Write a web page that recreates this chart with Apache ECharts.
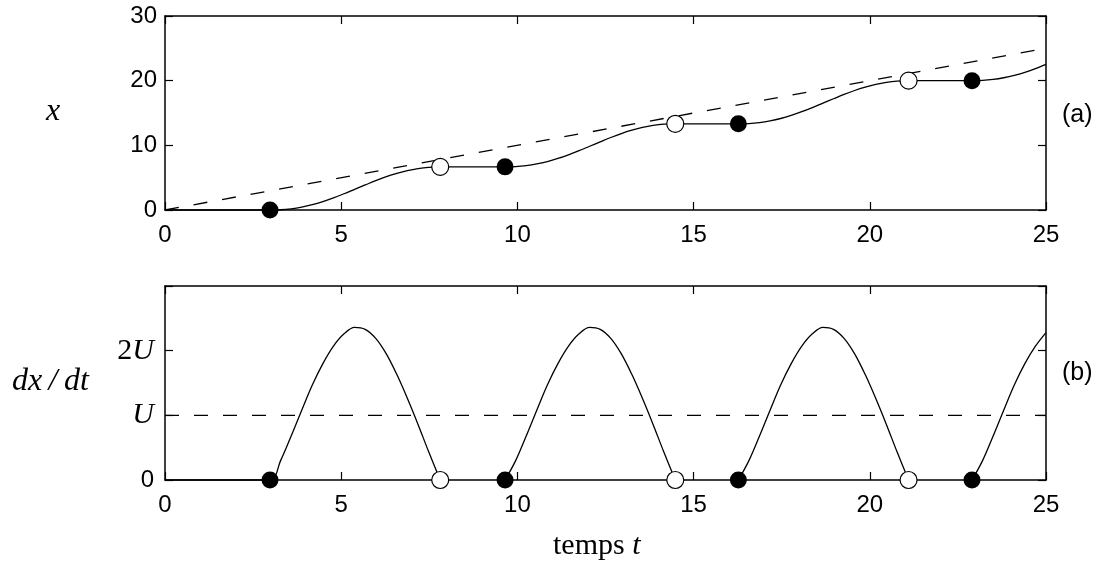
<!DOCTYPE html>
<html>
<head>
<meta charset="utf-8">
<script src="https://cdn.jsdelivr.net/npm/echarts@6/dist/echarts.min.js"></script>
<style>
html,body{margin:0;padding:0;background:#fff;}
#chart{width:1100px;height:570px;}
</style>
</head>
<body>
<div id="chart"></div>
<script>
// ---- data ----
var xTicks = [0, 5, 10, 15, 20, 25];
var topTickLabels = ['0', '10', '20', '30'];
var botTickLabels = ['0', 'U', '2U', ''];

// (a) position x(t)
var tTop = [0,
  2.98, 3.28, 3.58, 3.88, 4.18, 4.48, 4.78, 5.08, 5.38, 5.68, 5.98, 6.28, 6.58, 6.88, 7.18, 7.48, 7.81,
  9.65, 9.95, 10.25, 10.55, 10.85, 11.15, 11.45, 11.75, 12.05, 12.35, 12.65, 12.95, 13.25, 13.55, 13.85, 14.15, 14.48,
  16.27, 16.57, 16.87, 17.17, 17.47, 17.77, 18.07, 18.37, 18.67, 18.97, 19.27, 19.57, 19.87, 20.17, 20.47, 20.77, 21.1,
  22.9, 23.2, 23.5, 23.8, 24.1, 24.4, 24.7, 25.0];
var xTop = [0,
  0, 0.04, 0.19, 0.45, 0.82, 1.30, 1.87, 2.51, 3.19, 3.87, 4.54, 5.15, 5.67, 6.10, 6.41, 6.60, 6.67,
  6.67, 6.71, 6.86, 7.12, 7.49, 7.97, 8.54, 9.18, 9.86, 10.54, 11.21, 11.82, 12.34, 12.77, 13.08, 13.27, 13.33,
  13.33, 13.37, 13.52, 13.78, 14.15, 14.63, 15.20, 15.84, 16.52, 17.20, 17.87, 18.48, 19.00, 19.43, 19.74, 19.93, 20,
  20, 20.04, 20.19, 20.45, 20.82, 21.30, 21.87, 22.53];
// dashed reference x = U t
var tRef = [0, 25];
var xRef = [0, 25];

// (b) velocity dx/dt (in units of U); null separates the bumps
var tBot = [0, 2.98,
  2.98, 3.28, 3.58, 3.88, 4.18, 4.48, 4.78, 5.08, 5.38, 5.68, 5.98, 6.28, 6.58, 6.88, 7.18, 7.48, 7.81,
  8.7,
  9.65, 9.95, 10.25, 10.55, 10.85, 11.15, 11.45, 11.75, 12.05, 12.35, 12.65, 12.95, 13.25, 13.55, 13.85, 14.15, 14.48,
  15.4,
  16.27, 16.57, 16.87, 17.17, 17.47, 17.77, 18.07, 18.37, 18.67, 18.97, 19.27, 19.57, 19.87, 20.17, 20.47, 20.77, 21.1,
  22.0,
  22.9, 23.2, 23.5, 23.8, 24.1, 24.4, 24.7, 25.0];
var vBot = [0, 0,
  0, 0.30, 0.68, 1.08, 1.47, 1.80, 2.07, 2.26, 2.36, 2.33, 2.19, 1.95, 1.63, 1.26, 0.86, 0.44, 0,
  null,
  0, 0.30, 0.68, 1.08, 1.47, 1.80, 2.07, 2.26, 2.36, 2.33, 2.19, 1.95, 1.63, 1.26, 0.86, 0.44, 0,
  null,
  0, 0.30, 0.68, 1.08, 1.47, 1.80, 2.07, 2.26, 2.36, 2.33, 2.19, 1.95, 1.63, 1.26, 0.86, 0.44, 0,
  null,
  0, 0.30, 0.68, 1.08, 1.47, 1.80, 2.07, 2.28];
var tUref = [0, 25];
var vUref = [1, 1];

// markers: filled = start of motion, open = stop
var tFilled = [2.98, 9.65, 16.27, 22.9];
var xFilled = [0, 6.67, 13.33, 20];
var vFilled = [0, 0, 0, 0];
var tOpen = [7.81, 14.48, 21.1];
var xOpen = [6.67, 13.33, 20];
var vOpen = [0, 0, 0];

// ---- build ----
function zip(a, b) {
  var out = [];
  for (var i = 0; i < a.length; i++) out.push([a[i], b[i] === null ? '-' : b[i]]);
  return out;
}
var SANS = '"Liberation Sans", Arial, sans-serif';
var SERIF = '"Liberation Serif", "Times New Roman", serif';
var black = '#000';

function xAx(grid, pos, labels) {
  return {
    type: 'value', gridIndex: grid, position: pos, min: 0, max: 25, interval: 5,
    axisLine: { show: true, onZero: false, lineStyle: { color: black, width: 1.5 } },
    axisTick: { show: true, inside: true, length: 8, lineStyle: { color: black, width: 1.2 } },
    splitLine: { show: false },
    axisLabel: labels ? { show: true, color: black, fontFamily: SANS, fontSize: 24, margin: 13, showMinLabel: true, showMaxLabel: true } : { show: false }
  };
}
function yAx(grid, pos, max, interval, labelOpt) {
  return {
    type: 'value', gridIndex: grid, position: pos, min: 0, max: max, interval: interval,
    axisLine: { show: true, onZero: false, lineStyle: { color: black, width: 1.5 } },
    axisTick: { show: true, inside: true, length: 8, lineStyle: { color: black, width: 1.2 } },
    splitLine: { show: false },
    axisLabel: labelOpt || { show: false }
  };
}

var topLabel = {
  show: true, color: black, fontFamily: SANS, fontSize: 24, margin: 8,
  formatter: function (v) { return topTickLabels[Math.round(v / 10)]; }
};
var botLabel = {
  show: true, color: black, margin: 11,
  formatter: function (v) {
    var s = botTickLabels[Math.round(v)];
    if (s === '0') return '{s|0}';
    if (s === 'U') return '{i|U}';
    if (s === '2U') return '{n|2}{i|U}';
    return '';
  },
  rich: {
    s: { fontFamily: SANS, fontSize: 24, color: black },
    n: { fontFamily: SERIF, fontSize: 30, color: black },
    i: { fontFamily: SERIF, fontSize: 30, fontStyle: 'italic', color: black }
  }
};

var chart = echarts.init(document.getElementById('chart'));
chart.setOption({
  animation: false,
  backgroundColor: '#fff',
  grid: [
    { left: 165, right: 54, top: 16, height: 194 },
    { left: 165, right: 54, top: 286, height: 194 }
  ],
  xAxis: [
    xAx(0, 'bottom', true), xAx(0, 'top', false),
    xAx(1, 'bottom', true), xAx(1, 'top', false)
  ],
  yAxis: [
    yAx(0, 'left', 30, 10, topLabel), yAx(0, 'right', 30, 10, null),
    yAx(1, 'left', 3, 1, botLabel), yAx(1, 'right', 3, 1, null)
  ],
  series: [
    { type: 'line', xAxisIndex: 0, yAxisIndex: 0, data: zip(tRef, xRef), showSymbol: false,
      lineStyle: { color: black, width: 1.3, type: [14, 15] }, z: 2 },
    { type: 'line', xAxisIndex: 0, yAxisIndex: 0, data: zip(tTop, xTop), showSymbol: false, smooth: 0.35,
      clip: false, lineStyle: { color: black, width: 1.3 }, z: 3 },
    { type: 'scatter', xAxisIndex: 0, yAxisIndex: 0, data: zip(tFilled, xFilled), symbolSize: 17, clip: false,
      itemStyle: { color: black, opacity: 1 }, z: 5 },
    { type: 'scatter', xAxisIndex: 0, yAxisIndex: 0, data: zip(tOpen, xOpen), symbolSize: 17, clip: false,
      itemStyle: { color: '#fff', borderColor: black, borderWidth: 1.2, opacity: 1 }, z: 5 },

    { type: 'line', xAxisIndex: 2, yAxisIndex: 2, data: zip(tUref, vUref), showSymbol: false,
      lineStyle: { color: black, width: 1.3, type: [14, 15] }, z: 2 },
    { type: 'line', xAxisIndex: 2, yAxisIndex: 2, data: zip(tBot, vBot), showSymbol: false, smooth: 0.35,
      connectNulls: false, clip: false, lineStyle: { color: black, width: 1.3 }, z: 3 },
    { type: 'scatter', xAxisIndex: 2, yAxisIndex: 2, data: zip(tFilled, vFilled), symbolSize: 17, clip: false,
      itemStyle: { color: black, opacity: 1 }, z: 5 },
    { type: 'scatter', xAxisIndex: 2, yAxisIndex: 2, data: zip(tOpen, vOpen), symbolSize: 17, clip: false,
      itemStyle: { color: '#fff', borderColor: black, borderWidth: 1.2, opacity: 1 }, z: 5 }
  ],
  graphic: [
    { type: 'text', left: 46, top: 96, style: { text: 'x', font: 'italic 32px ' + SERIF, fill: black } },
    { type: 'text', left: 12, top: 366, style: { text: 'dx\u2009/\u2009dt', font: 'italic 32px ' + SERIF, fill: black } },
    { type: 'text', left: 1062, top: 103, style: { text: '(a)', font: '25px ' + SANS, fill: black } },
    { type: 'text', left: 1062, top: 361, style: { text: '(b)', font: '25px ' + SANS, fill: black } },
    { type: 'text', left: 553, top: 531, style: {
        text: '{r|temps }{i|t}',
        rich: {
          r: { fontFamily: SERIF, fontSize: 30, fill: black, color: black },
          i: { fontFamily: SERIF, fontSize: 30, fontStyle: 'italic', fill: black, color: black }
        }
      } }
  ]
});
</script>
</body>
</html>
